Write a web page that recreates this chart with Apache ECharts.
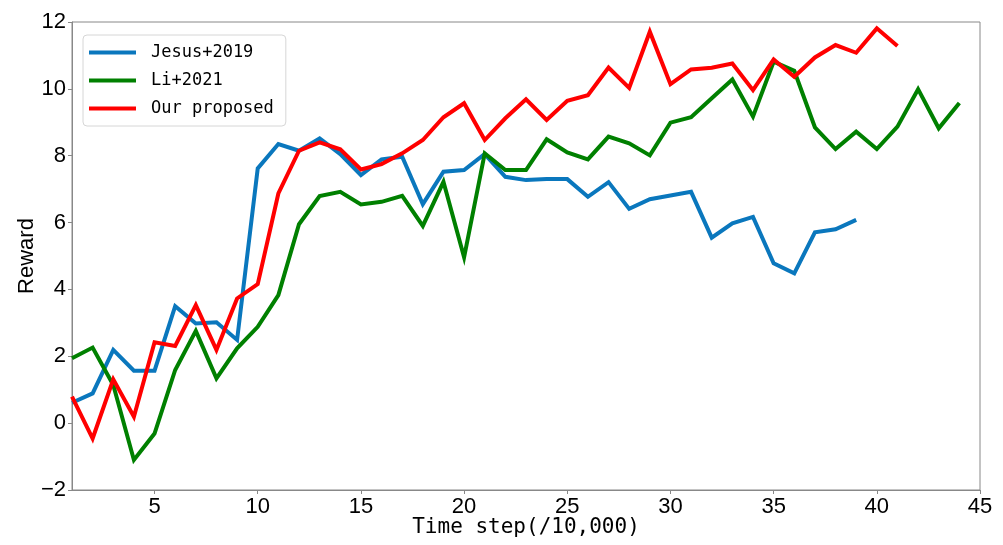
<!DOCTYPE html>
<html>
<head>
<meta charset="utf-8">
<script src="https://cdn.jsdelivr.net/npm/echarts@6/dist/echarts.min.js"></script>
<style>html,body{margin:0;padding:0;background:#fff}#c{width:1003px;height:545px}</style>
</head>
<body>
<div id="c"></div>
<script>
const seriesNames = ["Jesus+2019", "Li+2021", "Our proposed"];
const jesus2019 = [0.61,0.89,2.19,1.57,1.57,3.50,2.98,3.02,2.49,7.62,8.35,8.15,8.52,8.05,7.42,7.89,7.97,6.55,7.52,7.57,8.05,7.37,7.27,7.30,7.30,6.77,7.21,6.41,6.70,6.81,6.92,5.55,5.98,6.17,4.78,4.48,5.71,5.80,6.08];
const li2021 = [1.94,2.26,1.14,-1.10,-0.31,1.59,2.76,1.34,2.24,2.88,3.83,5.95,6.79,6.92,6.54,6.62,6.80,5.90,7.22,4.96,8.07,7.57,7.57,8.49,8.10,7.89,8.57,8.37,8.01,8.99,9.15,9.72,10.28,9.17,10.81,10.54,8.85,8.20,8.72,8.20,8.87,9.99,8.82,9.58];
const ourProposed = [0.79,-0.46,1.31,0.19,2.42,2.31,3.53,2.19,3.73,4.16,6.87,8.15,8.40,8.19,7.59,7.75,8.07,8.47,9.15,9.57,8.47,9.12,9.69,9.07,9.64,9.81,10.64,10.03,11.71,10.14,10.58,10.63,10.76,9.96,10.88,10.36,10.94,11.31,11.08,11.81,11.28];
const xTicks = [5,10,15,20,25,30,35,40,45];
const colors = ["#0a77bd", "#008000", "#ff0000"];

function toPairs(arr){ return arr.map((v,i)=>[i+1, v]); }
const allData = [jesus2019, li2021, ourProposed];

const chart = echarts.init(document.getElementById('c'), null, {renderer:'canvas'});
const tickFont = {fontFamily:'Liberation Sans, Arial, sans-serif', fontSize:22, color:'#000'};
chart.setOption({
  animation:false,
  backgroundColor:'#fff',
  grid:{left:72, right:23, top:22, bottom:55, show:true, borderColor:'#888', borderWidth:1, backgroundColor:'transparent'},
  legend:{
    orient:'vertical', left:83, top:35,
    data: seriesNames,
    icon:'rect', itemWidth:47, itemHeight:4, itemGap:9,
    padding:[8,12,8,6],
    backgroundColor:'rgba(255,255,255,0.8)', borderColor:'#d6d6d6', borderWidth:1, borderRadius:4,
    textStyle:{fontFamily:'DejaVu Sans Mono, monospace', fontSize:17, color:'#000', lineHeight:19, padding:[0,0,0,10]}
  },
  xAxis:{
    type:'value', min:1, max:45,
    name:'Time step(/10,000)', nameLocation:'middle', nameGap:27, nameMoveOverlap:false,
    nameTextStyle:{fontFamily:'DejaVu Sans Mono, monospace', fontSize:21, color:'#000'},
    axisLine:{show:true, onZero:false, lineStyle:{color:'#888', width:1}},
    axisTick:{show:true, inside:false, length:4, lineStyle:{color:'#888'}, customValues:xTicks},
    axisLabel:Object.assign({margin:6, customValues:xTicks}, tickFont),
    splitLine:{show:false}
  },
  yAxis:{
    type:'value', min:-2, max:12, interval:2,
    name:'Reward', nameLocation:'middle', nameGap:34, nameMoveOverlap:false,
    nameTextStyle:{fontFamily:'Liberation Sans, Arial, sans-serif', fontSize:22, color:'#000'},
    axisLine:{show:true, lineStyle:{color:'#888', width:1}},
    axisTick:{show:true, length:4, lineStyle:{color:'#888'}},
    axisLabel:Object.assign({margin:6, formatter:v=>String(v).replace('-', '\u2212')}, tickFont),
    splitLine:{show:false}
  },
  series: seriesNames.map((n,i)=>({
    name:n, type:'line', data:toPairs(allData[i]),
    showSymbol:false, symbol:'none',
    lineStyle:{color:colors[i], width:4, join:'miter'},
    itemStyle:{color:colors[i]}
  }))
});
</script>
</body>
</html>
